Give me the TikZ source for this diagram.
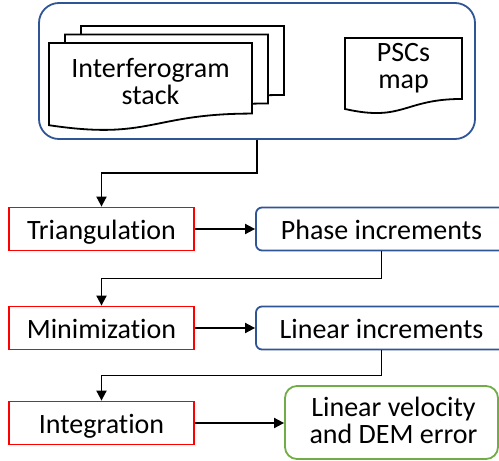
\documentclass[tikz,border=0pt]{standalone}
\usepackage{fontspec}
\setmainfont{Carlito}[Ligatures={NoCommon,NoRare,NoContextual}]
\usetikzlibrary{arrows.meta,calc}
\definecolor{pptblue}{RGB}{47,85,151}
\definecolor{pptgreen}{RGB}{112,173,71}
\definecolor{pptred}{RGB}{255,0,0}
\tikzset{
  base/.style={line width=1.8pt, inner sep=0pt, font=\fontsize{28}{27.5}\selectfont, align=center},
  stepbox/.style={base, draw=pptred, minimum width=185pt, minimum height=43pt, text height=22pt, text depth=2pt},
  resultbox/.style={base, draw=pptblue, rounded corners=6pt, minimum height=43pt, text height=22pt, text depth=2pt},
  finalbox/.style={base, draw=pptgreen, rounded corners=12pt},
  docpath/.style={draw=black, fill=white, line width=1.8pt},
  doctext/.style={inner sep=0pt, font=\fontsize{28}{27}\selectfont, align=center, anchor=base},
  arr/.style={line width=1.8pt, -{Triangle[length=10pt,width=10pt]}},
}
% flowchart "document" shape: top-left corner, width, height
\newcommand{\docshape}[4][]{%
  \path[docpath,#1] (#2) ++(0,0) coordinate (dtl)
    -- ++(#3,0) -- ++(0,{0.802*#4})
    .. controls ++({-0.5*#3},0) and ($(dtl)+({0.5*#3},{1.1075*#4})$) .. ($(dtl)+(0,{0.934*#4})$)
    -- cycle;}
\begin{document}
\begin{tikzpicture}[x=1pt,y=-1pt]
\useasboundingbox (0,0) rectangle (499,461);

% input container
\node[base, draw=pptblue, rounded corners=20pt, minimum width=436pt, minimum height=136pt] (box) at (257,71) {};

% interferogram stack: three stacked documents
\docshape{81,26}{203}{86}
\docshape{65,34.5}{203}{86}
\docshape{49,43}{203}{88}
\node[doctext] (stack) at (150.5,104) {Interferogram\\stack};

% PSCs map document
\docshape{345,38}{117}{76}
\node[doctext] (pscs) at (403.5,88) {PSCs\\map};

% processing steps
\node[stepbox] (tri) at (101.5,229) {Triangulation};
\node[stepbox] (mini) at (101.5,328) {Minimization};
\node[stepbox] (integ) at (101.5,423) {Integration};

% intermediate results
\node[resultbox, minimum width=251pt] (phase) at (381.5,229) {Phase increments};
\node[resultbox, minimum width=251pt] (lin) at (381.5,328) {Linear increments};

% final result
\node[finalbox, minimum width=213pt, minimum height=73pt] (final) at (391.5,422.5) {};
\node[doctext] (finaltext) at (393.5,443) {Linear velocity\\and DEM error};

% connectors
\draw[arr] (box.south) -- ($(box.south)!0.5!(box.south|-tri.north)$) -| (tri.north);
\draw[arr] (tri.east) -- (phase.west);
\draw[arr] (phase.south) -- ($(phase.south)!0.5!(phase.south|-mini.north)$) -| (mini.north);
\draw[arr] (mini.east) -- (lin.west);
\draw[arr] (lin.south) -- ($(lin.south)!0.5!(lin.south|-integ.north)$) -| (integ.north);
\draw[arr] (integ.east) -- (integ.east-|final.west);
\end{tikzpicture}
\end{document}
